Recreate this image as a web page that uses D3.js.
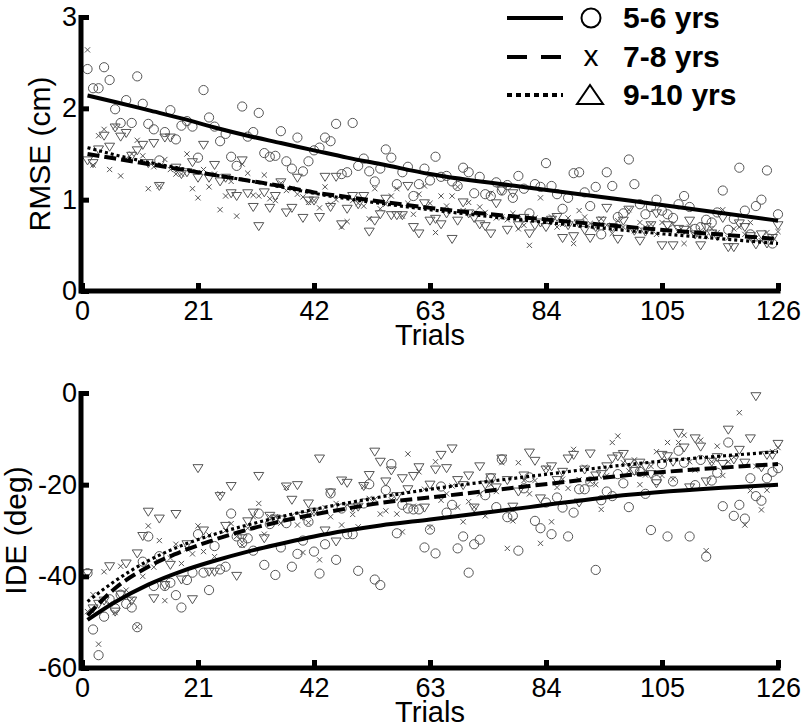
<!DOCTYPE html>
<html><head><meta charset="utf-8">
<script src="https://cdn.jsdelivr.net/npm/d3@7"></script>
<style>body{margin:0;background:#fff}svg{display:block}</style>
</head><body><svg id="c" width="806" height="728"></svg>
<script>
// ---------- data ----------
const groups = ["5-6 yrs", "7-8 yrs", "9-10 yrs"];
const xTicks = [0, 21, 42, 63, 84, 105, 126];
const rmseTicks = [0, 1, 2, 3];
const ideTicks = [-60, -40, -20, 0];
const trials = d3.range(1, 127);

const rmse56 = [2.43,2.22,2.22,2.45,2.31,1.99,1.84,2.09,1.84,2.35,
 2.05,1.83,1.77,1.43,1.74,1.98,1.66,1.81,1.86,1.80,
 1.46,2.20,1.90,1.80,1.64,1.72,1.47,1.37,2.02,1.69,
 1.74,1.95,1.51,1.47,1.48,1.75,1.42,1.34,1.68,1.31,
 1.42,1.54,1.57,1.68,1.64,1.83,1.28,1.30,1.84,1.37,
 1.45,1.31,1.20,1.34,1.55,1.46,1.17,1.30,1.36,1.04,
 1.17,1.34,1.21,1.47,1.25,1.26,1.20,1.15,1.35,1.30,
 1.07,1.25,1.06,1.04,1.19,1.10,1.16,1.02,1.26,1.12,
 0.85,1.17,1.14,1.40,1.15,1.06,0.90,1.02,1.29,1.30,
 1.08,0.93,1.14,0.62,1.30,1.15,0.81,0.85,1.44,1.17,
 0.95,0.84,0.92,1.00,0.88,0.84,0.80,0.95,1.04,0.92,
 0.68,0.70,0.78,0.75,0.86,1.10,0.67,0.79,1.35,0.88,
 0.62,0.93,1.00,1.32,0.52,0.84];
const rmse78 = [2.64,1.38,1.70,1.77,1.33,1.80,1.26,1.45,1.50,1.65,
 1.48,1.12,1.36,1.15,1.44,1.33,1.28,1.28,1.50,1.12,
 1.02,1.33,1.14,1.28,0.89,1.04,1.20,0.82,1.39,1.29,
 1.05,1.04,1.27,1.01,0.99,1.18,1.10,1.12,1.06,1.03,
 0.97,0.99,0.91,1.14,0.95,1.00,0.70,0.76,0.99,0.96,
 0.93,0.79,1.12,0.90,0.95,1.04,1.12,0.82,0.96,0.84,
 1.06,1.15,0.96,0.64,1.04,0.93,1.04,1.14,0.88,0.97,
 0.85,0.92,0.86,1.07,0.80,0.81,0.78,0.85,0.68,0.72,
 0.50,0.80,1.02,0.76,0.81,0.70,0.73,0.80,0.52,0.88,
 0.81,0.74,0.70,0.79,0.72,0.63,0.77,0.70,0.89,0.66,
 0.75,0.70,0.73,0.62,0.75,0.68,0.73,0.66,0.52,0.70,
 0.62,0.66,0.60,0.68,0.64,0.89,0.58,0.68,0.70,0.62,
 0.75,0.58,0.55,0.64,0.60,0.65];
const rmse910 = [1.43,1.40,1.55,1.70,1.58,1.79,1.69,1.73,1.48,1.54,
 1.60,1.40,1.62,1.15,1.68,1.68,1.35,1.28,1.30,1.41,
 1.24,1.60,1.24,1.38,1.20,1.24,1.07,1.04,1.43,1.07,
 0.92,0.71,1.08,0.91,1.04,1.19,0.86,0.91,1.24,0.80,
 0.99,0.99,0.81,1.25,0.92,1.25,0.73,0.90,1.04,0.95,
 1.04,0.65,0.77,0.84,1.01,0.83,0.83,0.83,1.15,0.70,
 0.63,0.96,0.77,0.79,0.73,0.85,0.57,0.77,0.97,0.85,
 0.80,0.73,0.71,0.63,0.96,1.10,0.67,1.07,0.72,0.80,
 0.63,0.72,0.75,0.70,0.78,0.81,0.58,0.72,0.60,0.74,
 0.67,0.58,0.70,0.77,0.91,0.70,0.57,0.77,0.89,0.66,
 0.55,0.65,0.72,0.85,0.50,0.72,0.50,0.68,0.67,0.77,
 0.62,0.50,0.70,0.63,0.60,0.80,0.48,0.48,0.74,0.70,
 0.60,0.51,0.62,0.52,0.58,0.72];

const ide56 = [-39.3,-51.6,-57.2,-48.8,-45.0,-47.0,-44.0,-46.0,-46.8,-51.1,
 -36.8,-31.3,-42.1,-35.6,-42.1,-41.4,-44.1,-46.8,-40.8,-39.2,
 -30.8,-39.2,-43.0,-33.4,-38.5,-37.9,-26.3,-31.3,-32.7,-31.7,
 -34.4,-26.3,-37.5,-28.6,-39.7,-33.7,-28.4,-37.9,-35.1,-32.2,
 -28.1,-34.6,-39.4,-33.0,-21.9,-36.4,-25.2,-30.8,-30.8,-38.8,
 -24.1,-19.9,-40.7,-41.9,-21.2,-15.5,-30.6,-24.4,-25.2,-25.4,
 -25.4,-33.7,-29.8,-35.0,-20.4,-26.1,-24.4,-33.9,-31.3,-39.2,
 -33.0,-32.0,-22.3,-18.6,-24.9,-14.5,-27.1,-26.8,-34.4,-20.8,
 -18.4,-27.9,-29.5,-23.9,-30.8,-22.8,-25.0,-31.3,-26.1,-21.0,
 -21.0,-19.3,-38.6,-23.4,-21.5,-22.5,-17.7,-19.7,-24.9,-16.8,
 -17.2,-22.0,-29.9,-19.0,-15.5,-31.3,-19.3,-12.6,-15.2,-31.3,
 -20.1,-14.6,-35.7,-19.1,-17.4,-24.7,-10.8,-26.8,-24.4,-27.4,
 -18.6,-22.5,-23.5,-18.6,-17.2,-16.4];
const ide78 = [-47.7,-44.0,-54.8,-39.0,-46.0,-47.9,-37.8,-43.0,-45.0,-51.0,
 -40.0,-29.0,-38.0,-32.2,-45.3,-36.0,-33.0,-37.2,-34.0,-35.1,
 -29.0,-34.6,-31.0,-35.7,-22.0,-30.0,-28.5,-31.3,-33.2,-29.5,
 -27.0,-24.1,-30.8,-27.0,-27.0,-28.4,-20.6,-26.8,-28.8,-34.8,
 -28.3,-26.0,-36.4,-25.0,-27.0,-24.1,-28.8,-24.4,-26.5,-29.2,
 -20.4,-23.0,-23.2,-26.4,-25.7,-23.3,-26.4,-30.3,-13.3,-24.7,
 -17.2,-21.0,-29.3,-15.0,-23.4,-22.0,-20.3,-24.9,-28.1,-23.7,
 -24.9,-22.0,-26.8,-20.0,-21.5,-15.2,-33.9,-27.9,-15.2,-19.1,
 -22.0,-19.1,-32.8,-16.4,-28.1,-20.6,-18.8,-20.8,-12.3,-18.9,
 -16.2,-19.3,-20.0,-25.4,-18.0,-10.8,-9.4,-15.2,-17.0,-14.6,
 -20.0,-17.9,-16.0,-12.8,-18.0,-10.8,-18.8,-10.8,-9.2,-15.0,
 -16.8,-10.3,-34.4,-15.0,-11.6,-18.0,-15.0,-14.0,-4.3,-28.8,
 -21.3,-16.0,-25.5,-21.2,-12.8,-11.9];
const ide910 = [-39.3,-47.0,-46.0,-45.3,-37.8,-47.7,-44.0,-37.2,-45.3,-35.0,
 -31.2,-25.9,-44.8,-27.4,-41.9,-37.5,-26.4,-40.7,-33.0,-45.0,
 -16.4,-30.0,-39.0,-39.0,-22.5,-29.0,-20.3,-39.9,-31.7,-28.0,
 -26.1,-18.1,-31.7,-26.8,-27.4,-27.6,-20.4,-23.3,-20.1,-26.8,
 -24.1,-25.9,-14.3,-30.0,-21.7,-32.4,-19.1,-19.6,-25.0,-24.8,
 -20.3,-17.9,-12.8,-15.0,-19.3,-16.9,-22.5,-18.6,-21.0,-18.1,
 -16.2,-25.0,-20.0,-16.7,-13.5,-16.4,-12.1,-19.0,-20.1,-18.0,
 -25.0,-16.0,-20.0,-18.4,-20.6,-14.3,-19.0,-24.8,-21.5,-18.0,
 -13.0,-14.8,-23.0,-16.7,-16.0,-19.0,-17.2,-14.3,-13.5,-23.9,
 -16.7,-13.2,-18.0,-17.7,-16.0,-14.3,-13.8,-13.3,-15.2,-17.0,
 -15.2,-16.0,-17.7,-19.7,-13.5,-13.8,-15.0,-8.7,-11.9,-20.6,
 -9.9,-11.7,-19.3,-15.0,-14.0,-15.5,-8.0,-14.5,-12.4,-15.2,
 -9.9,-0.7,-16.2,-13.5,-13.5,-11.1];

// fitted curves, read at these trials
const fitTrials = [1, 6, 12, 18, 24, 30, 36, 42, 48, 54, 63, 81, 99, 126];
const rmseFit56  = [2.14, 2.07, 1.98, 1.89, 1.79, 1.70, 1.62, 1.54, 1.46, 1.39, 1.28, 1.13, 0.99, 0.77];
const rmseFit78  = [1.50, 1.45, 1.39, 1.33, 1.27, 1.21, 1.15, 1.08, 1.03, 0.98, 0.91, 0.80, 0.70, 0.57];
const rmseFit910 = [1.57, 1.49, 1.41, 1.34, 1.27, 1.21, 1.14, 1.07, 1.01, 0.96, 0.89, 0.77, 0.66, 0.52];
const ideFit56  = [-49.5, -45.6, -41.8, -38.9, -36.6, -34.6, -32.9, -31.3, -30.0, -28.9, -27.6, -24.9, -22.2, -20.0];
const ideFit78  = [-48.5, -42.6, -37.9, -34.6, -32.0, -29.8, -28.0, -26.5, -25.2, -24.0, -22.8, -20.3, -17.9, -15.5];
const ideFit910 = [-45.5, -41.0, -36.6, -33.3, -30.8, -28.8, -27.0, -25.4, -24.0, -22.7, -21.0, -18.2, -15.6, -12.8];

// ---------- drawing ----------
const svg = d3.select("#c");
const FONT = "'Liberation Sans', Arial, Helvetica, sans-serif";
const markerColor = "#555";
const dashStyles = [null, "12,5", "3,3"];
const lineWidths = [4, 4, 3.2];

const x = d3.scaleLinear().domain([0, 126]).range([82, 778]);

function panel(opts) {
  const y = d3.scaleLinear().domain(opts.yDomain).range([opts.y0, opts.y1]);
  const g = svg.append("g");
  const series = opts.series;

  const sg = g.append("g").attr("fill", "none").attr("stroke", markerColor).attr("stroke-width", 1);
  sg.selectAll("circle.m").data(series[0]).join("circle")
    .attr("cx", (d, i) => x(trials[i])).attr("cy", d => y(d)).attr("r", 4.6);
  sg.selectAll("path.x").data(series[1]).join("path")
    .attr("d", (d, i) => {
      const cx = x(trials[i]), cy = y(d), s = 2.6;
      return `M${cx - s},${cy - s}L${cx + s},${cy + s}M${cx - s},${cy + s}L${cx + s},${cy - s}`;
    });
  sg.selectAll("path.t").data(series[2]).join("path")
    .attr("d", (d, i) => {
      const cx = x(trials[i]), cy = y(d);
      return `M${cx - 5},${cy - 3.5}L${cx + 5},${cy - 3.5}L${cx},${cy + 4.5}Z`;
    });

  const line = d3.line().x((d, i) => x(fitTrials[i])).y(d => y(d)).curve(d3.curveMonotoneX);
  [0, 1, 2].forEach(k => {
    g.append("path").datum(opts.fits[k]).attr("d", line)
      .attr("fill", "none").attr("stroke", "#000")
      .attr("stroke-width", lineWidths[k])
      .attr("stroke-dasharray", dashStyles[k]);
  });

  const ax = g.append("g").attr("transform", `translate(0,${opts.y0})`)
    .call(d3.axisBottom(x).tickValues(xTicks).tickSizeInner(-8).tickSizeOuter(0).tickPadding(10).tickFormat(d => String(d)));
  const ay = g.append("g").attr("transform", `translate(81,0)`)
    .call(d3.axisLeft(y).tickValues(opts.yTicks).tickSizeInner(-8).tickSizeOuter(0).tickPadding(4).tickFormat(d => String(d)));
  [ax, ay].forEach(a => {
    a.select(".domain").attr("stroke", "#000").attr("stroke-width", 5);
    a.selectAll(".tick line").attr("stroke", "#000").attr("stroke-width", 5);
    a.selectAll(".tick text").attr("fill", "#000").style("font-family", FONT).style("font-size", "27px");
  });
  ax.select(".domain").attr("d", `M${x(0) - 2.5},0H${x(126) + 2.5}`);
  ay.select(".domain").attr("d", `M0,${opts.y1 - 2}V${opts.y0 + 2.5}`);

  g.append("text").attr("x", 430).attr("y", opts.y0 + 54)
    .attr("text-anchor", "middle").style("font-family", FONT).style("font-size", "29px").text("Trials");
  g.append("text").attr("transform", `translate(${opts.titleX},${(opts.y0 + opts.y1) / 2}) rotate(-90)`)
    .attr("text-anchor", "middle").style("font-family", FONT).style("font-size", "30px").text(opts.yTitle);
}

panel({ yDomain: [0, 3], y0: 291, y1: 17, yTicks: rmseTicks, yTitle: "RMSE (cm)", titleX: 50,
  series: [rmse56, rmse78, rmse910], fits: [rmseFit56, rmseFit78, rmseFit910] });
panel({ yDomain: [-60, 0], y0: 668, y1: 393, yTicks: ideTicks, yTitle: "IDE (deg)", titleX: 26,
  series: [ide56, ide78, ide910], fits: [ideFit56, ideFit78, ideFit910] });

// legend
const leg = svg.append("g");
const rowsY = [18, 57, 95];
const legDash = [null, "20,14", "5,4"];
groups.forEach((name, i) => {
  const yy = rowsY[i];
  leg.append("line").attr("x1", 507).attr("x2", 563).attr("y1", yy).attr("y2", yy)
    .attr("stroke", "#000").attr("stroke-width", 4).attr("stroke-dasharray", legDash[i]);
  leg.append("text").attr("x", 623).attr("y", yy + 10)
    .style("font-family", FONT).style("font-size", "30px").style("font-weight", "bold").text(name);
});
leg.append("circle").attr("cx", 591).attr("cy", rowsY[0]).attr("r", 9.5)
  .attr("fill", "none").attr("stroke", "#000").attr("stroke-width", 2);
leg.append("text").attr("x", 591).attr("y", rowsY[1] + 9).attr("text-anchor", "middle")
  .style("font-family", FONT).style("font-size", "30px").text("x");
leg.append("path").attr("d", `M${577},${rowsY[2] + 9}L${603},${rowsY[2] + 9}L${590},${rowsY[2] - 10}Z`)
  .attr("fill", "none").attr("stroke", "#000").attr("stroke-width", 2);
</script>
</body></html>
